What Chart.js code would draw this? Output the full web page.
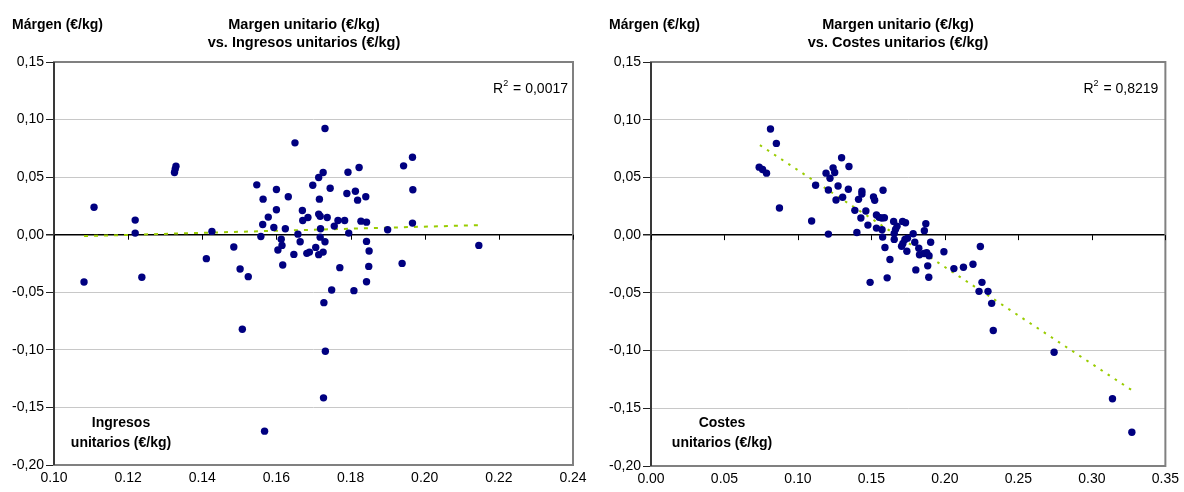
<!DOCTYPE html>
<html>
<head>
<meta charset="utf-8">
<script src="https://cdn.jsdelivr.net/npm/chart.js@4/dist/chart.umd.min.js"></script>
<style>
  body { margin: 0; background: #fff; }
  .box { position: absolute; top: 0; width: 592px; height: 492px; }
</style>
</head>
<body>
<div class="box" style="left:0"><canvas id="chartIngresos"></canvas></div>
<div class="box" style="left:592px"><canvas id="chartCostes"></canvas></div>
<script>
// Margen unitario vs. ingresos unitarios (€/kg)
const ingresosX = [0.1108,0.1081,0.1219,0.1219,0.1237,0.1329,0.1327,0.1325,0.1426,0.1411,
  0.1485,0.1502,0.1524,0.1547,0.1564,0.1600,0.1632,0.1650,0.1600,0.1578,
  0.1563,0.1593,0.1624,0.1558,0.1613,0.1615,0.1604,0.1617,0.1647,0.1658,
  0.1664,0.1670,0.1671,0.1685,0.1682,0.1689,0.1731,0.1726,0.1714,0.1698,
  0.1745,0.1716,0.1714,0.1718,0.1737,0.1766,0.1784,0.1756,0.1719,0.1795,
  0.1718,0.1731,0.1706,0.1726,0.1714,0.1793,0.1823,0.1813,0.1790,0.1819,
  0.1841,0.1828,0.1843,0.1843,0.1850,0.1771,0.1849,0.1843,0.1749,0.1809,
  0.1900,0.1939,0.1943,0.1967,0.1968,0.1967,0.2146,0.1508,0.1568,0.1728,
  0.1732,0.1727];
const ingresosMargen = [0.0239,-0.0411,0.0127,0.0014,-0.0370,0.0595,0.0570,0.0540,0.0029,-0.0208,
  -0.0107,-0.0298,-0.0364,0.0433,0.0309,0.0393,0.0330,0.0798,0.0217,0.0153,
  0.0089,0.0063,0.0052,-0.0015,-0.0040,-0.0093,-0.0133,-0.0263,-0.0171,0.0005,
  -0.0061,0.0210,0.0124,0.0150,-0.0162,-0.0151,0.0922,0.0540,0.0497,0.0430,
  0.0404,0.0309,0.0179,0.0161,0.0150,0.0124,0.0124,0.0075,0.0052,0.0014,
  -0.0021,-0.0061,-0.0110,-0.0151,-0.0173,0.0543,0.0584,0.0378,0.0358,0.0300,
  0.0330,0.0118,0.0109,-0.0058,-0.0142,-0.0286,-0.0275,-0.0408,-0.0480,-0.0486,
  0.0043,-0.0249,0.0598,0.0673,0.0390,0.0101,-0.0093,-0.0821,-0.1706,-0.0590,
  -0.1012,-0.1417];
const ingresosTrendX = [0.1081, 0.2146];
const ingresosTrendY = [-0.0012, 0.0083];

// Margen unitario vs. costes unitarios (€/kg)
const costesX = [0.0813,0.0853,0.0736,0.0759,0.0786,0.0874,0.1093,0.1120,0.1207,0.1207,
  0.1191,0.1218,0.1239,0.1250,0.1273,0.1259,0.1304,0.1297,0.1347,0.1343,
  0.1387,0.1412,0.1435,0.1435,0.1428,0.1462,0.1401,0.1476,0.1514,0.1522,
  0.1579,0.1534,0.1552,0.1588,0.1570,0.1534,0.1572,0.1576,0.1592,0.1626,
  0.1491,0.1607,0.1651,0.1655,0.1712,0.1732,0.1674,0.1664,0.1655,0.1705,
  0.1714,0.1741,0.1728,0.1745,0.1784,0.1870,0.1860,0.1795,0.1903,0.1822,
  0.1827,0.1876,0.1892,0.1858,0.1802,0.1883,0.1890,0.1993,0.2061,0.2126,
  0.2191,0.2241,0.2252,0.2232,0.2293,0.2318,0.2329,0.2743,0.3140,0.3272];
const costesMargen = [0.0919,0.0795,0.0589,0.0569,0.0537,0.0235,0.0122,0.0432,0.0009,0.0391,
  0.0537,0.0493,0.0583,0.0543,0.0426,0.0304,0.0328,0.0670,0.0595,0.0397,
  0.0215,0.0310,0.0380,0.0357,0.0148,0.0209,0.0023,0.0087,0.0330,0.0302,
  0.0389,0.0174,0.0154,0.0151,0.0148,0.0061,0.0047,-0.0017,-0.0107,-0.0211,
  -0.0409,-0.0370,0.0119,-0.0037,0.0119,0.0108,0.0078,0.0050,0.0015,-0.0096,
  -0.0072,-0.0139,-0.0037,-0.0026,0.0012,0.0099,0.0038,-0.0061,-0.0061,-0.0113,
  -0.0170,-0.0153,-0.0179,-0.0159,-0.0301,-0.0266,-0.0365,-0.0144,-0.0290,-0.0278,
  -0.0252,-0.0098,-0.0409,-0.0487,-0.0487,-0.0591,-0.0826,-0.1014,-0.1417,-0.1707];
const costesTrendX = [0.0741, 0.327];
const costesTrendY = [0.0780, -0.1342];

const FONT = '"Liberation Sans", Arial, sans-serif';

function pts(xs, ys){
    return xs.map((x,i) => ({x: x, y: ys[i]}));
}

// frame, zero-line ticks and texts
const decor = {
    id: 'decor',
    beforeDatasetsDraw(chart, args, o){
        const {ctx, chartArea: a, scales} = chart;
        ctx.save();
        ctx.strokeStyle = '#808080';
        ctx.lineWidth = 2;
        ctx.strokeRect(a.left, a.top, a.right - a.left, a.bottom - a.top);
        ctx.strokeStyle = '#222';
        ctx.lineWidth = 1.5;
        ctx.beginPath();
        ctx.moveTo(a.left, a.top); ctx.lineTo(a.left, a.bottom);
        ctx.stroke();
        // x tick marks hang from the zero line
        const y0 = scales.y.getPixelForValue(0);
        ctx.strokeStyle = '#000';
        ctx.lineWidth = 1;
        ctx.beginPath();
        scales.x.ticks.forEach(t => {
            const px = Math.round(scales.x.getPixelForValue(t.value)) + 0.5;
            ctx.moveTo(px, y0); ctx.lineTo(px, y0 + 5);
        });
        ctx.stroke();
        ctx.restore();
    },
    afterDraw(chart, args, o){
        const {ctx, chartArea: a} = chart;
        ctx.save();
        ctx.fillStyle = '#000';
        ctx.textBaseline = 'middle';
        ctx.font = 'bold 14px ' + FONT;
        ctx.textAlign = 'left';
        ctx.fillText('Márgen (€/kg)', a.left - 42, 25);
        ctx.font = 'bold 14.5px ' + FONT;
        ctx.textAlign = 'center';
        ctx.fillText(o.title[0], a.left + o.titleDx, 25);
        ctx.fillText(o.title[1], a.left + o.titleDx, 43);
        ctx.font = 'bold 14px ' + FONT;
        ctx.fillText(o.xTitle[0], a.left + o.xTitleDx, 423);
        ctx.fillText(o.xTitle[1], a.left + o.xTitleDx, 443);
        ctx.font = '14px ' + FONT;
        ctx.textAlign = 'right';
        const r = o.r2;
        const w = ctx.measureText(' = ' + r).width;
        ctx.fillText(' = ' + r, a.right - o.r2Dx, 89);
        ctx.fillText('R', a.right - o.r2Dx - w - 6, 89);
        ctx.font = '9px ' + FONT;
        ctx.textAlign = 'left';
        ctx.fillText('2', a.right - o.r2Dx - w - 6, 84);
        ctx.restore();
    }
};

function makeChart(id, xs, ys, tx, ty, xMin, xMax, xStep, dash, padRight, yWidth, xHeight, texts){
    return new Chart(document.getElementById(id), {
        type: 'scatter',
        data: {
            datasets: [{
                data: pts(xs, ys),
                backgroundColor: '#000080',
                borderWidth: 0,
                pointRadius: 3.7,
                order: 1
            }, {
                type: 'line',
                data: pts(tx, ty),
                borderColor: '#99cc00',
                borderWidth: 2,
                borderDash: dash,
                pointRadius: 0,
                fill: false,
                order: 2
            }]
        },
        options: {
            responsive: true,
            maintainAspectRatio: false,
            animation: false,
            events: [],
            layout: {padding: {top: 62, right: padRight, bottom: 0, left: 0}},
            plugins: {
                legend: {display: false},
                tooltip: {enabled: false},
                decor: texts
            },
            scales: {
                x: {
                    type: 'linear',
                    min: xMin, max: xMax,
                    afterFit: s => { s.height = xHeight; },
                    ticks: {
                        stepSize: xStep,
                        color: '#000',
                        font: {family: FONT, size: 14},
                        padding: 5,
                        maxRotation: 0,
                        callback: v => v.toFixed(2)
                    },
                    grid: {drawOnChartArea: false, drawTicks: false},
                    border: {display: false}
                },
                y: {
                    min: -0.2, max: 0.15,
                    afterFit: s => { s.width = yWidth; },
                    ticks: {
                        stepSize: 0.05,
                        color: '#000',
                        font: {family: FONT, size: 14},
                        padding: 2,
                        callback: v => (Math.abs(v) < 1e-9 ? 0 : v).toFixed(2).replace('.', ',')
                    },
                    grid: {
                        color: c => Math.abs(c.tick.value) < 1e-9 ? '#000' : '#c8c8c8',
                        lineWidth: c => Math.abs(c.tick.value) < 1e-9 ? 1.5 : 1,
                        tickColor: '#222',
                        tickLength: 8
                    },
                    border: {display: false}
                }
            }
        },
        plugins: [decor]
    });
}

makeChart('chartIngresos', ingresosX, ingresosMargen, ingresosTrendX, ingresosTrendY,
    0.10, 0.24, 0.02, [4, 6], 19, 54, 27, {
        title: ['Margen unitario (€/kg)', 'vs. Ingresos unitarios (€/kg)'],
        titleDx: 250,
        xTitle: ['Ingresos', 'unitarios (€/kg)'],
        xTitleDx: 67,
        r2: '0,0017',
        r2Dx: 5
    });

makeChart('chartCostes', costesX, costesMargen, costesTrendX, costesTrendY,
    0, 0.35, 0.05, [2.5, 6], 15, 59, 26, {
        title: ['Margen unitario (€/kg)', 'vs. Costes unitarios (€/kg)'],
        titleDx: 247,
        xTitle: ['Costes', 'unitarios (€/kg)'],
        xTitleDx: 71,
        r2: '0,8219',
        r2Dx: 7
    });
</script>
</body>
</html>
